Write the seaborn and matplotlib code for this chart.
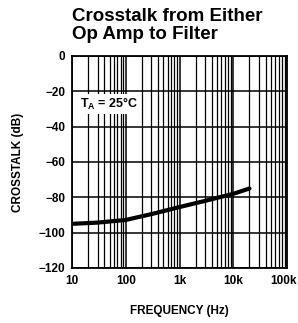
import numpy as np
import pandas as pd
import matplotlib
matplotlib.use("Agg")
import matplotlib.pyplot as plt
import matplotlib.transforms as mtransforms
import seaborn as sns
from matplotlib.ticker import FixedLocator, NullFormatter

# Data
freq_hz = [10, 30, 100, 300, 1000, 3000, 10000, 20000]
crosstalk_db = [-95, -94.3, -92.8, -89.5, -85.5, -82, -78, -75]

x_ticks = [10, 100, 1000, 10000, 100000]
x_tick_labels = ["10", "100", "1k", "10k", "100k"]
y_ticks = [0, -20, -40, -60, -80, -100, -120]
y_tick_labels = ["0", "\u221220", "\u221240", "\u221260", "\u221280", "\u2212100", "\u2212120"]

df = pd.DataFrame({"freq": freq_hz, "xt": crosstalk_db})

sns.set_theme(style="white")
plt.rcParams["font.family"] = ["Liberation Sans", "DejaVu Sans"]
plt.rcParams.update({"text.color": "black", "axes.labelcolor": "black",
                     "xtick.color": "black", "ytick.color": "black"})

fig = plt.figure(figsize=(2.98, 3.23), dpi=100)
ax = fig.add_axes([72 / 298, 1 - 268 / 323, 215 / 298, 212 / 323])

sns.lineplot(data=df, x="freq", y="xt", color="black", linewidth=3, ax=ax, zorder=4)

ax.set_xscale("log")
ax.set_xlim(10, 100000)
ax.set_ylim(-120, 0)

minor_x = [m * 10 ** d for d in range(1, 5) for m in range(2, 10)]
ax.xaxis.set_major_locator(FixedLocator(x_ticks))
ax.set_xticklabels(x_tick_labels, fontweight="bold", fontsize=8.5)
ax.xaxis.set_minor_locator(FixedLocator(minor_x))
ax.xaxis.set_minor_formatter(NullFormatter())
ax.set_yticks(y_ticks)
ax.set_yticklabels(y_tick_labels, fontweight="bold", fontsize=8.5)

ax.grid(which="major", axis="both", color="black", linewidth=1.1)
ax.grid(which="minor", axis="x", color="black", linewidth=0.9)
ax.tick_params(axis="both", which="both", length=0, pad=5)
for s in ax.spines.values():
    s.set_color("black")
    s.set_linewidth(1.3)

ax.set_xlabel("FREQUENCY (Hz)", fontweight="bold", fontsize=8.5, labelpad=13)
ax.set_ylabel("CROSSTALK (dB)", fontweight="bold", fontsize=8.5, labelpad=10)

ax.text(14, -27, "T$_\\mathregular{A}$ = 25\u00b0C", fontsize=9, fontweight="bold",
        va="center", ha="left",
        bbox=dict(facecolor="white", edgecolor="none", pad=1.5), zorder=5)

fig.text(72 / 298, 1 - 8 / 323, "Crosstalk from Either\nOp Amp to Filter",
         fontsize=13.5, fontweight="bold", color="black",
         ha="left", va="top", linespacing=1.05)

# nudge the last x label so it stays inside the figure
fig.canvas.draw()
last = ax.xaxis.get_major_ticks()[-1].label1
last.set_horizontalalignment("right")
last.set_transform(last.get_transform() +
                   mtransforms.ScaledTranslation(10 / 100, 0, fig.dpi_scale_trans))

fig.savefig("out.png", dpi=100)
